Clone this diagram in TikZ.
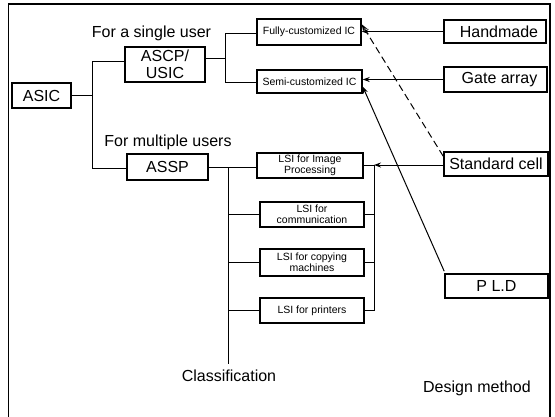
\documentclass[tikz,border=0pt]{standalone}
\usepackage{fontspec}
\setmainfont{Liberation Sans}
\usetikzlibrary{arrows.meta}
\begin{document}
\begin{tikzpicture}[x=1pt,y=-1pt,
  big/.style={draw, line width=1.6pt, inner sep=0pt, align=center, font=\fontsize{16}{17}\selectfont},
  small/.style={draw, line width=1.4pt, inner sep=0pt, align=center, font=\fontsize{10.5}{11}\selectfont},
  lbl/.style={inner sep=0pt, font=\fontsize{16}{17}\selectfont},
  conn/.style={line width=0.9pt},
  arr/.style={line width=1pt, -{Stealth[length=7pt,width=5pt]}}]
\useasboundingbox (0,0) rectangle (555,416);
% frame
\draw[line width=1.8pt] (8.5,420) -- (8.5,4) -- (550,4) -- (550,420);
% nodes
\node[big, minimum width=59pt, minimum height=25pt] (asic) at (41.5,95.5) {ASIC};
\node[big, minimum width=80pt, minimum height=35pt] (ascp) at (165,64.5) {ASCP/\\USIC};
\node[big, minimum width=81pt, minimum height=26pt] (assp) at (167.5,167) {ASSP};
\node[small, minimum width=104pt, minimum height=26pt] (fully) at (309,32) {Fully-customized IC};
\node[small, minimum width=105pt, minimum height=23pt] (semi) at (309.5,81.5) {Semi-customized IC};
\node[small, minimum width=106pt, minimum height=25pt] (image) at (310,165.5) {LSI for Image\\Processing};
\node[small, minimum width=104pt, minimum height=25pt] (comm) at (312,214.5) {LSI for\\communication};
\node[small, minimum width=104pt, minimum height=27pt] (copy) at (312,262.5) {LSI for copying\\machines};
\node[small, minimum width=104pt, minimum height=25pt] (print) at (312,310.5) {LSI for printers};
\node[big, minimum width=102pt, minimum height=23pt] (hand) at (495,31.5) {\hspace*{8pt}Handmade};
\node[big, minimum width=103pt, minimum height=25pt] (gate) at (495.5,79.5) {\hspace*{8pt}Gate array};
\node[big, minimum width=104pt, minimum height=24pt] (std) at (496,164) {Standard cell};
\node[big, minimum width=103pt, minimum height=24pt] (pld) at (496.5,286) {P L.D};
% labels
\node[lbl] (single) at (151.5,33) {For a single user};
\node[lbl] (multi) at (168,142) {For multiple users};
\node[lbl] (cls) at (229,376) {Classification};
\node[lbl] (dm) at (477,388) {Design method};
% coordinates
\coordinate (j1) at (92,61);
\coordinate (j2) at (92,168);
\coordinate (j0) at (92,95.5);
\coordinate (k1) at (225,33);
\coordinate (k2) at (225,82);
\coordinate (k0) at (225,58);
\coordinate (lb1) at (228,167);
\coordinate (lb2) at (228,364);
\coordinate (rb1) at (374,165);
\coordinate (rb2) at (374,311);
% tree connectors
\draw[conn] (asic.east |- j0) -- (j0);
\draw[conn] (j1) -- (j2);
\draw[conn] (j1) -- (j1 -| ascp.west);
\draw[conn] (j2) -- (j2 -| assp.west);
\draw[conn] (ascp.east |- k0) -- (k0);
\draw[conn] (k1) -- (k2);
\draw[conn] (k1) -- (k1 -| fully.west);
\draw[conn] (k2) -- (k2 -| semi.west);
\draw[conn] (assp.east |- lb1) -- (lb1 -| image.west);
\draw[conn] (lb1) -- (lb2);
\draw[conn] (lb1 |- comm) -- (comm.west);
\draw[conn] (lb1 |- copy) -- (copy.west);
\draw[conn] (lb1 |- print) -- (print.west);
\draw[conn] (rb1) -- (rb2);
\draw[conn] (image.east |- rb1) -- (rb1);
\draw[conn] (comm.east) -- (comm -| rb1);
\draw[conn] (copy.east) -- (copy -| rb1);
\draw[conn] (print.east) -- (print -| rb1);
% design method arrows
\draw[arr] (hand.west) -- (hand -| fully.east);
\draw[arr] (gate.west) -- (gate -| semi.east);
\draw[arr] (std.west |- rb1) -- (rb1);
\draw[arr, dashed, dash pattern=on 7pt off 4pt] ([yshift=-5pt]std.north west) -- ([yshift=-6pt]fully.north east);
\draw[arr] ([yshift=2pt]pld.north west) -- ([yshift=-5pt]semi.east);
\end{tikzpicture}
\end{document}
